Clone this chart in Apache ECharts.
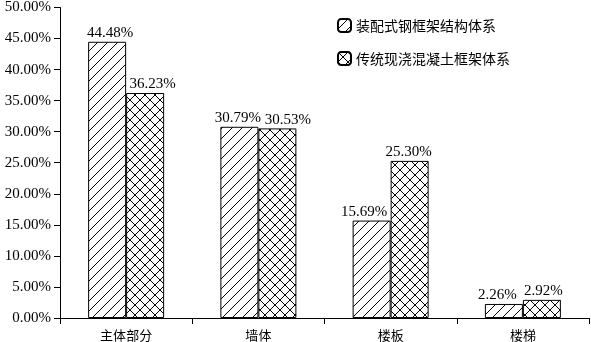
<!DOCTYPE html>
<html><head><meta charset="utf-8">
<script src="https://cdn.jsdelivr.net/npm/echarts@6/dist/echarts.min.js"></script>
<style>html,body{margin:0;padding:0;background:#fff}#c{width:591px;height:342px}</style>
</head><body><div id="c"></div>
<script>
const categories = ['主体部分', '墙体', '楼板', '楼梯'];
const steelFrame = [44.48, 30.79, 15.69, 2.26];
const concreteFrame = [36.23, 30.53, 25.30, 2.92];
const seriesNames = ['装配式钢框架结构体系', '传统现浇混凝土框架体系'];
// horizontal nudges of the value labels (style only), as in the original figure
const steelLabelShift = [3, -1.5, -7.5, -6.5];
const concreteLabelShift = [7.5, 10.5, -1, 1.5];

function makePattern(cross) {
  const s = 10;
  const c = document.createElement('canvas');
  c.width = s; c.height = s;
  const g = c.getContext('2d');
  g.fillStyle = '#fff'; g.fillRect(0, 0, s, s);
  g.strokeStyle = '#000'; g.lineWidth = 1;
  g.beginPath();
  g.moveTo(-1, s + 1); g.lineTo(s + 1, -1);
  g.moveTo(-1, 1); g.lineTo(1, -1);
  g.moveTo(s - 1, s + 1); g.lineTo(s + 1, s - 1);
  if (cross) {
    g.moveTo(-1, -1); g.lineTo(s + 1, s + 1);
    g.moveTo(-1, s - 1); g.lineTo(1, s + 1);
    g.moveTo(s - 1, -1); g.lineTo(s + 1, 1);
  }
  g.stroke();
  return { image: c, repeat: 'repeat' };
}

const serif = '"Liberation Serif", "Times New Roman", serif';
const cjk = '"Noto Sans CJK SC", sans-serif';
function labelCfg() {
  return {
    show: true, position: 'top', distance: 1, color: '#000',
    fontFamily: serif, fontSize: 15,
    formatter: p => p.value.toFixed(2) + '%'
  };
}
function withShift(values, shifts) {
  return values.map((v, i) => ({ value: v, label: { offset: [shifts[i], 0] } }));
}

const chart = echarts.init(document.getElementById('c'), null, { renderer: 'canvas' });
chart.setOption({
  animation: false,
  backgroundColor: '#fff',
  grid: { left: 60, right: 2, top: 5, bottom: 24 },
  legend: {
    orient: 'vertical', left: 332, top: 13, itemWidth: 13, itemHeight: 13, itemGap: 18,
    textStyle: { fontFamily: cjk, fontSize: 14, color: '#000' },
    data: seriesNames
  },
  xAxis: {
    type: 'category', data: categories,
    axisLine: { lineStyle: { color: '#000', width: 1 } },
    axisTick: { show: true, length: 6, lineStyle: { color: '#000' } },
    axisLabel: { color: '#000', fontFamily: cjk, fontSize: 13, margin: 11 }
  },
  yAxis: {
    type: 'value', min: 0, max: 50, interval: 5,
    axisLine: { show: true, lineStyle: { color: '#000', width: 1 } },
    axisTick: { show: true, length: 6, lineStyle: { color: '#000' } },
    splitLine: { show: false },
    axisLabel: { color: '#000', fontFamily: serif, fontSize: 15, margin: 9, formatter: v => v.toFixed(2) + '%' }
  },
  series: [
    { name: seriesNames[0], type: 'bar', data: withShift(steelFrame, steelLabelShift), barWidth: 38, barGap: '0%',
      itemStyle: { color: makePattern(false), borderColor: '#000', borderWidth: 1 }, label: labelCfg() },
    { name: seriesNames[1], type: 'bar', data: withShift(concreteFrame, concreteLabelShift), barWidth: 38, barGap: '0%',
      itemStyle: { color: makePattern(true), borderColor: '#000', borderWidth: 1 }, label: labelCfg() }
  ]
});
</script></body></html>
